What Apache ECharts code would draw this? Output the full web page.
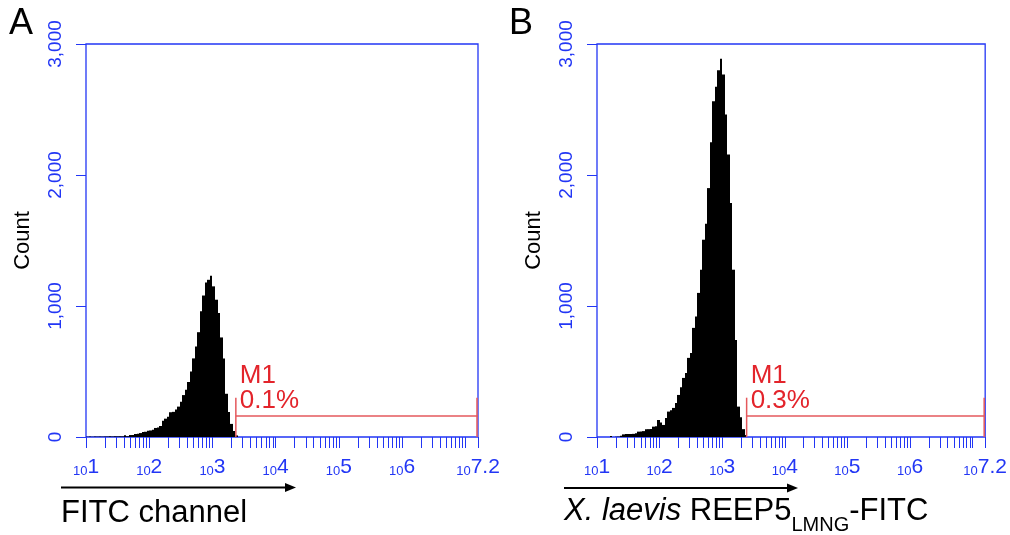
<!DOCTYPE html>
<html>
<head>
<meta charset="utf-8">
<script src="https://cdn.jsdelivr.net/npm/echarts@6/dist/echarts.min.js"></script>
<style>
  html, body { margin: 0; background: #fff; }
  #chart { width: 1010px; height: 535px; }
</style>
</head>
<body>
<div id="chart"></div>
<script>
// histogram bins, log10 of FITC intensity
const binStart = 1.0;
const binWidth = 0.04;

// counts per bin, panel A (FITC channel)
const countsA = [
  2, 3, 2, 3, 3, 4, 3, 4, 4, 5,
  4, 5, 5, 6, 5, 14, 6, 15, 16, 23,
  25, 30, 39, 40, 48, 50, 55, 69, 72, 84,
  125, 140, 155, 189, 192, 210, 232, 270, 320, 360,
  420, 500, 600, 690, 800, 960, 1080, 1180, 1200, 1231,
  1150, 1048, 946, 760, 600, 330, 190, 100, 45, 12
];

// counts per bin, panel B (X. laevis REEP5 LMNG-FITC)
const countsB = [
  0, 0, 0, 0, 0, 8, 0, 2, 3, 10,
  20, 22, 23, 23, 24, 28, 41, 42, 45, 59,
  60, 62, 79, 82, 130, 110, 92, 145, 194, 205,
  222, 260, 321, 380, 451, 489, 604, 642, 833, 920,
  1100, 1277, 1506, 1628, 1900, 2250, 2563, 2673, 2800, 2887,
  2768, 2462, 2156, 1787, 1277, 740, 232, 150, 60, 15
];

// M1 gate (log10 start / end) and percentages
const gateA = [3.37, 7.2];
const gateB = [3.39, 7.2];
const gateLevel = 160;
const gateTop = 300;
const gateName = 'M1';
const gatePctA = '0.1%';
const gatePctB = '0.3%';

// axes
const xLabelValues = [1, 2, 3, 4, 5, 6, 7.2];
const minorSteps = [1, 2, 3, 4, 5, 6, 7, 8, 9];
const yMax = 3000;
const yStep = 1000;

const blue = '#2236f5';
const red = '#e3242b';
const font = 'Liberation Sans, Arial, Helvetica, sans-serif';

const xTickValues = [];
for (let n = 1; n <= 6; n++) {
  minorSteps.forEach(k => xTickValues.push(n + Math.log10(k)));
}
xTickValues.push(7, 7.2);

function xAxis(gridIndex) {
  return {
    type: 'value', gridIndex: gridIndex, min: 1, max: 7.2,
    axisLine: { show: false },
    axisTick: { customValues: xTickValues, length: 11, lineStyle: { color: blue, width: 1 } },
    axisLabel: {
      customValues: xLabelValues,
      margin: 20,
      formatter: v => '{a|10}{b|' + v + '}',
      rich: {
        a: { fontSize: 13, color: blue, fontFamily: font, verticalAlign: 'bottom', lineHeight: 13 },
        b: { fontSize: 21, color: blue, fontFamily: font, verticalAlign: 'bottom', lineHeight: 21 }
      }
    },
    splitLine: { show: false }
  };
}

function yAxis(gridIndex) {
  return {
    type: 'value', gridIndex: gridIndex, min: 0, max: yMax, interval: yStep,
    name: 'Count', nameLocation: 'middle', nameRotate: 90, nameGap: 52,
    nameTextStyle: { color: '#000', fontSize: 22, fontFamily: font },
    axisLine: { show: false },
    axisTick: { show: true, length: 10, lineStyle: { color: blue, width: 1 } },
    axisLabel: {
      rotate: 90, margin: 21, color: blue, fontSize: 19, fontFamily: font,
      formatter: v => v.toLocaleString('en-US')
    },
    splitLine: { show: false }
  };
}

function histSeries(idx, counts) {
  return {
    type: 'custom', xAxisIndex: idx, yAxisIndex: idx,
    encode: { x: [0, 1], y: 2 },
    data: counts.map((c, i) => [binStart + i * binWidth, binStart + (i + 1) * binWidth, c]),
    clip: true,
    z: 1,
    renderItem: (params, api) => {
      const p0 = api.coord([api.value(0), api.value(2)]);
      const p1 = api.coord([api.value(1), 0]);
      const x0 = Math.round(p0[0]);
      const x1 = Math.round(p1[0]);
      return {
        type: 'rect',
        shape: { x: x0, y: p0[1], width: x1 - x0, height: p1[1] - p0[1] },
        style: { fill: '#000' }
      };
    }
  };
}

function gateSeries(idx, gate, pct) {
  return {
    type: 'custom', xAxisIndex: idx, yAxisIndex: idx,
    encode: { x: [0, 1] },
    data: [[gate[0], gate[1]]],
    renderItem: (params, api) => {
      const s0 = api.coord([api.value(0), 0]);
      const sT = api.coord([api.value(0), gateTop]);
      const sL = api.coord([api.value(0), gateLevel]);
      const e0 = api.coord([api.value(1), 0]);
      const eT = api.coord([api.value(1), gateTop]);
      const eL = api.coord([api.value(1), gateLevel]);
      const ls = { stroke: '#e4585c', lineWidth: 1.5 };
      return {
        type: 'group',
        children: [
          { type: 'line', shape: { x1: s0[0], y1: s0[1], x2: sT[0], y2: sT[1] }, style: ls },
          { type: 'line', shape: { x1: e0[0] - 1, y1: e0[1], x2: eT[0] - 1, y2: eT[1] }, style: ls },
          { type: 'line', shape: { x1: sL[0], y1: sL[1], x2: eL[0], y2: eL[1] }, style: ls },
          { type: 'text', x: sT[0] + 4, y: sT[1] - 22,
            style: { text: gateName, fill: red, fontSize: 26, fontFamily: font, verticalAlign: 'middle' } },
          { type: 'text', x: sT[0] + 4, y: sT[1] + 3,
            style: { text: pct, fill: red, fontSize: 26, fontFamily: font, verticalAlign: 'middle' } }
        ]
      };
    }
  };
}

function arrow(x1, x2, y) {
  return [
    { type: 'line', shape: { x1: x1, y1: y, x2: x2 - 8, y2: y }, style: { stroke: '#000', lineWidth: 2 } },
    { type: 'polygon', shape: { points: [[x2 - 11, y - 4.5], [x2, y], [x2 - 11, y + 4.5]] }, style: { fill: '#000' } }
  ];
}

const chart = echarts.init(document.getElementById('chart'));
chart.setOption({
  animation: false,
  grid: [
    { left: 86, top: 44, width: 392, height: 393, show: true, borderColor: blue, borderWidth: 1.3 },
    { left: 597, top: 44, width: 392, height: 393, show: true, borderColor: blue, borderWidth: 1.3 }
  ],
  xAxis: [xAxis(0), xAxis(1)],
  yAxis: [yAxis(0), yAxis(1)],
  series: [
    histSeries(0, countsA),
    histSeries(1, countsB),
    gateSeries(0, gateA, gatePctA),
    gateSeries(1, gateB, gatePctB)
  ],
  graphic: [
    { type: 'text', left: 9, top: 6, style: { text: 'A', fontSize: 36, fontFamily: font, fill: '#000' } },
    { type: 'text', left: 509, top: 6, style: { text: 'B', fontSize: 36, fontFamily: font, fill: '#000' } },
    ...arrow(61, 296, 487.5),
    ...arrow(564, 798, 488),
    { type: 'text', x: 61, y: 513,
      style: { text: 'FITC channel', fontSize: 31, fontFamily: font, fill: '#000', verticalAlign: 'middle' } },
    { type: 'text', x: 564, y: 496,
      style: {
        text: '{i|X. laevis }{n|REEP5}{s|LMNG}{n|-FITC}',
        fill: '#000', verticalAlign: 'top',
        rich: {
          i: { fontSize: 31, fontStyle: 'italic', fontFamily: font, lineHeight: 31, verticalAlign: 'top' },
          n: { fontSize: 31, fontFamily: font, lineHeight: 31, verticalAlign: 'top' },
          s: { fontSize: 20, fontFamily: font, lineHeight: 20, verticalAlign: 'top', padding: [19, 0, 0, 0] }
        }
      } }
  ]
});
</script>
</body>
</html>
